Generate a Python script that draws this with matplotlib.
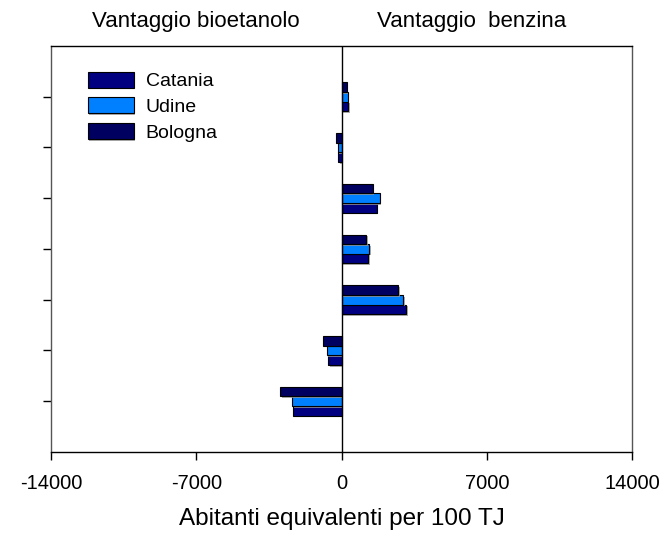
import numpy as np
import matplotlib
matplotlib.use('Agg')
import matplotlib.pyplot as plt
import matplotlib.patheffects as pe

# valori (abitanti equivalenti per 100 TJ), dall'alto verso il basso
gruppi = [1, 2, 3, 4, 5, 6, 7]
catania = [320, -160, 1690, 1280, 3100, -660, -2320]
udine = [290, -190, 1840, 1330, 2980, -720, -2390]
bologna = [240, -260, 1490, 1190, 2730, -880, -2970]

xticks = [-14000, -7000, 0, 7000, 14000]

plt.rcParams['font.family'] = ['Liberation Sans', 'DejaVu Sans']

fig = plt.figure(figsize=(6.65, 5.33), dpi=100)
ax = fig.add_axes([0.0767, 0.152, 0.874, 0.7617])

h = 0.19
y = np.array(gruppi, dtype=float)
ombra = [pe.SimplePatchShadow(offset=(1.2, -1.2), shadow_rgbFace='#999999', alpha=0.8), pe.Normal()]

serie = [
    ('Catania', catania, '#000080', h),
    ('Udine', udine, '#0080ff', 0),
    ('Bologna', bologna, '#000060', -h),
]
for nome, valori, colore, off in serie:
    bars = ax.barh(y + off, valori, height=h, color=colore, edgecolor='black',
                   linewidth=0.8, label=nome, zorder=3)
    for b in bars:
        b.set_path_effects(ombra)

ax.axvline(0, color='black', linewidth=1.0, zorder=4)

ax.set_xlim(-14000, 14000)
ax.set_ylim(8, 0)
ax.set_xticks(xticks)
ax.set_xticklabels([str(t) for t in xticks], fontsize=14.5)
ax.set_yticks(gruppi)
ax.set_yticklabels([])
ax.tick_params(axis='x', direction='out', length=6, width=1, pad=10)
ax.tick_params(axis='y', direction='out', length=6, width=1)

for s in ['left', 'right']:
    ax.spines[s].set_color('#555555')
for s in ax.spines.values():
    s.set_linewidth(1.0)

ax.set_xlabel('Abitanti equivalenti per 100 TJ', fontsize=17.5, labelpad=11)

leg = ax.legend(loc='upper left', bbox_to_anchor=(0.033, 0.98), frameon=False,
                fontsize=14, handlelength=2.37, handleheight=0.9,
                handletextpad=0.62, labelspacing=0.35)

fig.text(196 / 665, 1 - 26.7 / 533, 'Vantaggio bioetanolo', ha='center', va='baseline', fontsize=16)
fig.text(472 / 665, 1 - 26.7 / 533, 'Vantaggio  benzina', ha='center', va='baseline', fontsize=16)

fig.savefig('out.png', dpi=100)
